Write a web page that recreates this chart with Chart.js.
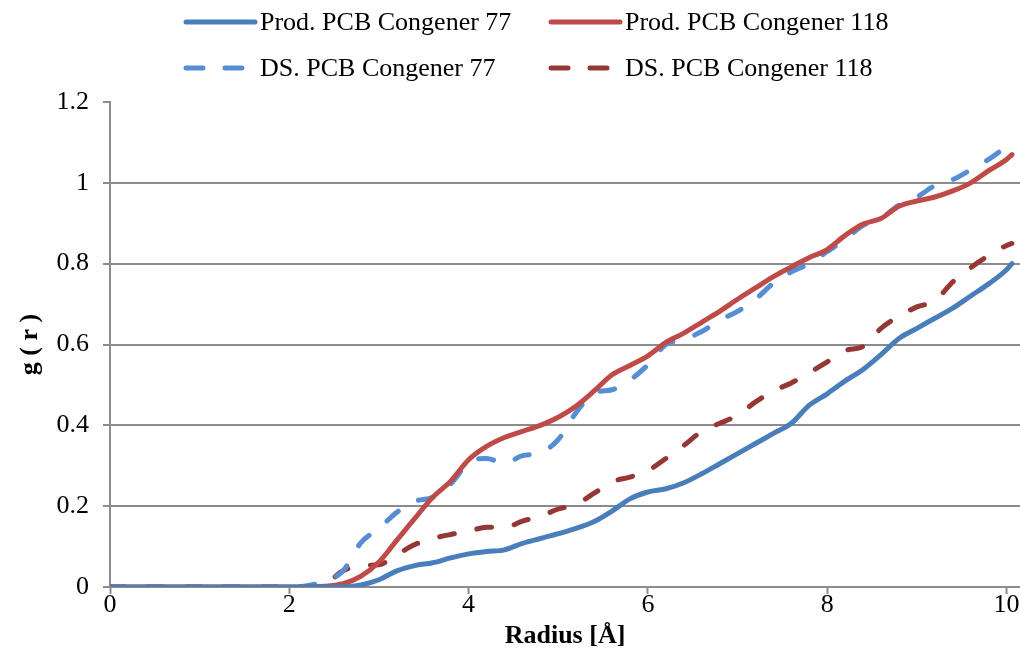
<!DOCTYPE html>
<html>
<head>
<meta charset="utf-8">
<script src="https://cdn.jsdelivr.net/npm/chart.js@4.4.0/dist/chart.umd.min.js"></script>
<style>
  html, body { margin: 0; padding: 0; background: #fff; }
  #wrap { width: 1020px; height: 650px; position: relative; }
</style>
</head>
<body>
<div id="wrap"><canvas id="rdfChart"></canvas></div>
<script>
// Radial distribution data
const radius = [0, 0.2, 0.4, 0.6, 0.8, 1.0, 1.2, 1.4, 1.6, 1.8, 2.0, 2.2, 2.4, 2.6, 2.8, 3.0, 3.2, 3.4, 3.6, 3.8,
  4.0, 4.2, 4.4, 4.6, 4.8, 5.0, 5.2, 5.4, 5.6, 5.8, 6.0, 6.2, 6.4, 6.6, 6.8, 7.0, 7.2, 7.4, 7.6, 7.8,
  8.0, 8.2, 8.4, 8.6, 8.8, 9.0, 9.2, 9.4, 9.6, 9.8, 10.0, 10.06];

const prod77 = [0, 0, 0, 0, 0, 0, 0, 0, 0, 0, 0, 0, 0, 0, 0.005, 0.018, 0.04, 0.053, 0.06, 0.072,
  0.082, 0.088, 0.092, 0.108, 0.12, 0.132, 0.145, 0.162, 0.188, 0.218, 0.235, 0.243, 0.258, 0.28, 0.305, 0.33, 0.355, 0.38, 0.405, 0.45,
  0.478, 0.51, 0.538, 0.575, 0.615, 0.64, 0.665, 0.69, 0.72, 0.75, 0.785, 0.80];

const prod118 = [0, 0, 0, 0, 0, 0, 0, 0, 0, 0, 0, 0, 0.002, 0.008, 0.027, 0.062, 0.116, 0.17, 0.222, 0.262,
  0.315, 0.348, 0.37, 0.385, 0.40, 0.42, 0.448, 0.485, 0.525, 0.548, 0.572, 0.605, 0.628, 0.655, 0.682, 0.712, 0.74, 0.768, 0.792, 0.815,
  0.835, 0.87, 0.898, 0.912, 0.942, 0.955, 0.965, 0.98, 1.0, 1.03, 1.058, 1.07];

const ds77 = [0, 0, 0, 0, 0, 0, 0, 0, 0, 0, 0, 0.003, 0.015, 0.04, 0.11, 0.145, 0.185, 0.212, 0.222, 0.255,
  0.308, 0.318, 0.306, 0.325, 0.332, 0.365, 0.432, 0.48, 0.488, 0.512, 0.55, 0.60, 0.612, 0.632, 0.66, 0.682, 0.712, 0.752, 0.78, 0.80,
  0.83, 0.86, 0.895, 0.912, 0.945, 0.965, 0.993, 1.008, 1.032, 1.058, 1.09, 1.10];

const ds118 = [0, 0, 0, 0, 0, 0, 0, 0, 0, 0, 0, 0, 0.007, 0.04, 0.053, 0.055, 0.08, 0.105, 0.12, 0.13,
  0.138, 0.148, 0.147, 0.163, 0.175, 0.193, 0.205, 0.232, 0.26, 0.272, 0.288, 0.318, 0.35, 0.385, 0.405, 0.425, 0.458, 0.485, 0.505, 0.53,
  0.557, 0.585, 0.595, 0.64, 0.67, 0.693, 0.708, 0.755, 0.79, 0.82, 0.845, 0.85];

const xTicks = [0, 2, 4, 6, 8, 10];
const yTicks = [0, 0.2, 0.4, 0.6, 0.8, 1, 1.2];

const serif = "'Liberation Serif', 'Times New Roman', serif";
const gridGray = "#8c8c8c";

function pts(values) {
  return radius.map((r, i) => ({ x: r, y: values[i] }));
}

// Axis titles and two-column legend drawn on top (Excel style layout)
const overlay = {
  id: "overlay",
  afterDraw(chart) {
    const { ctx, chartArea } = chart;
    ctx.save();
    ctx.fillStyle = "#000";
    ctx.font = "bold 26px " + serif;
    ctx.textAlign = "center";
    ctx.textBaseline = "middle";
    ctx.fillText("Radius [Å]", (chartArea.left + chartArea.right) / 2, 636);
    ctx.save();
    ctx.translate(30, (chartArea.top + chartArea.bottom) / 2);
    ctx.rotate(-Math.PI / 2);
    ctx.fillText("g ( r )", 0, 0);
    ctx.restore();

    const cols = [183, 548];
    const rows = [22, 68];
    ctx.font = "26px " + serif;
    ctx.textAlign = "left";
    chart.data.datasets.forEach((ds, i) => {
      const x = cols[i % 2];
      const y = rows[Math.floor(i / 2)];
      ctx.beginPath();
      ctx.strokeStyle = ds.borderColor;
      ctx.lineWidth = 5;
      ctx.lineCap = "round";
      ctx.setLineDash(ds.borderDash ? [17, 22] : []);
      ctx.moveTo(x + 3, y);
      ctx.lineTo(x + 72, y);
      ctx.stroke();
      ctx.setLineDash([]);
      ctx.fillStyle = "#000";
      ctx.fillText(ds.label, x + 77, y + 1);
    });
    ctx.restore();
  }
};

const ctx = document.getElementById("rdfChart");
new Chart(ctx, {
  type: "line",
  data: {
    datasets: [
      { label: "Prod. PCB Congener 77", data: pts(prod77), borderColor: "#4a7ebb" },
      { label: "Prod. PCB Congener 118", data: pts(prod118), borderColor: "#be4b48" },
      { label: "DS. PCB Congener 77", data: pts(ds77), borderColor: "#558ed5", borderDash: [15, 23] },
      { label: "DS. PCB Congener 118", data: pts(ds118), borderColor: "#953735", borderDash: [15, 23] }
    ]
  },
  options: {
    responsive: true,
    maintainAspectRatio: false,
    animation: false,
    layout: { padding: { top: 102, left: 0, right: 0, bottom: 0 } },
    elements: {
      point: { radius: 0 },
      line: { borderWidth: 5, cubicInterpolationMode: "monotone", borderCapStyle: "round", borderJoinStyle: "round", fill: false }
    },
    plugins: {
      legend: { display: false },
      tooltip: { enabled: false }
    },
    scales: {
      x: {
        type: "linear",
        min: 0,
        max: 10.15,
        afterBuildTicks: axis => { axis.ticks = xTicks.map(v => ({ value: v })); },
        afterFit: axis => { axis.height = 63; },
        border: { display: true, color: gridGray, width: 2 },
        grid: { drawOnChartArea: false, drawTicks: true, tickLength: 7, tickColor: gridGray, tickWidth: 2 },
        ticks: { color: "#000", font: { family: serif, size: 26 }, padding: -4, maxRotation: 0, callback: v => String(v) }
      },
      y: {
        min: 0,
        max: 1.2,
        afterBuildTicks: axis => { axis.ticks = yTicks.map(v => ({ value: v })); },
        afterFit: axis => { axis.width = 110; },
        border: { display: true, color: gridGray, width: 2 },
        grid: {
          color: c => (c.tick && c.tick.value >= 1.2) ? "rgba(0,0,0,0)" : gridGray,
          lineWidth: 2,
          drawTicks: true,
          tickLength: 7,
          tickColor: gridGray,
          tickWidth: 2
        },
        ticks: { color: "#000", font: { family: serif, size: 26 }, padding: 14, callback: v => String(Math.round(v * 10) / 10) }
      }
    }
  },
  plugins: [overlay]
});
</script>
</body>
</html>
